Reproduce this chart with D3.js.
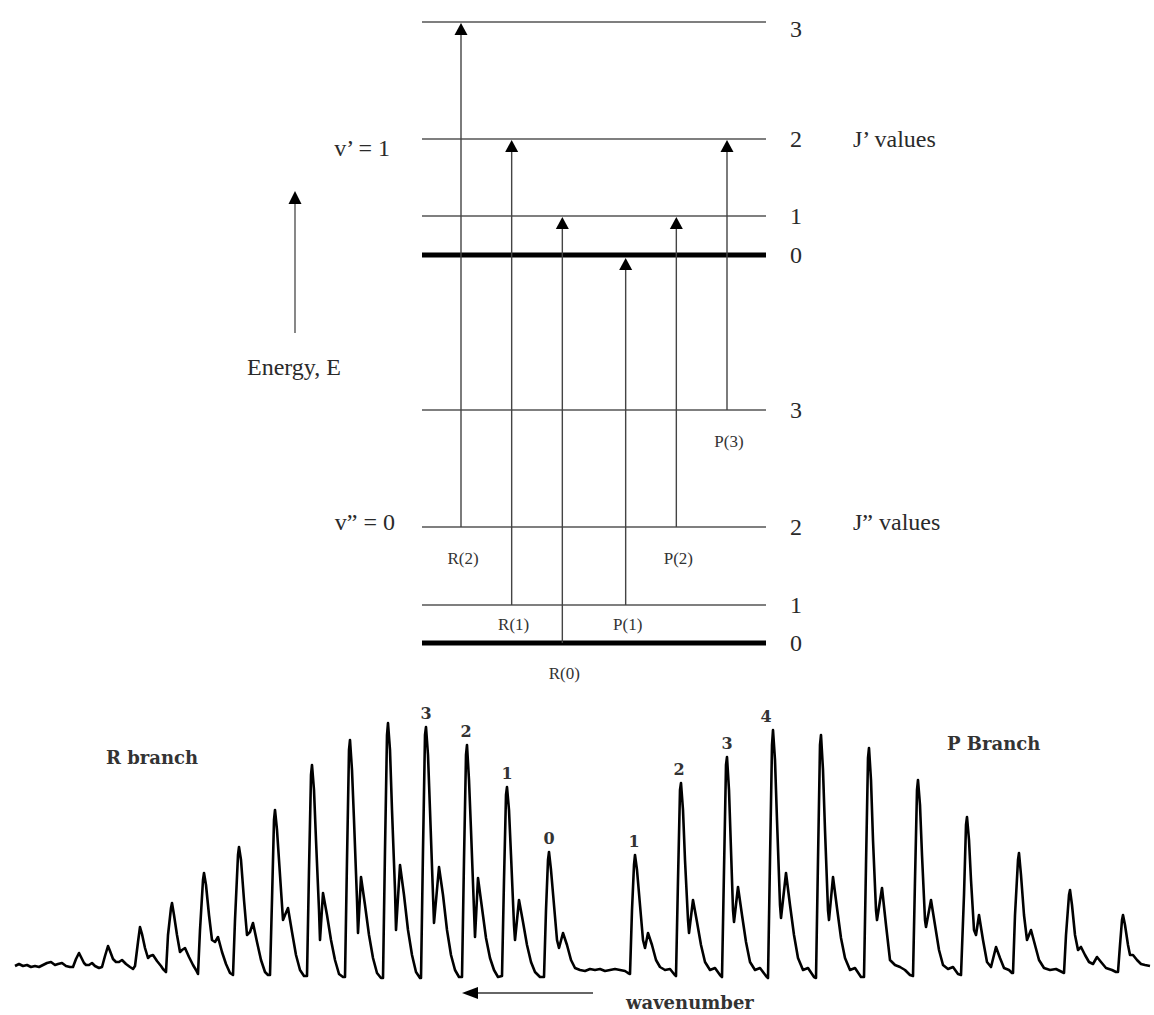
<!DOCTYPE html>
<html>
<head>
<meta charset="utf-8">
<script src="https://cdn.jsdelivr.net/npm/d3@7"></script>
<style>
  body { margin: 0; background: #fff; }
  svg { display: block; }
</style>
</head>
<body>
<div id="chart"></div>
<script>
// energy levels (arbitrary units)
var upperJ = [0, 1, 2, 3];
var upperE = [38.8, 42.7, 50.4, 62.1];
var lowerJ = [0, 1, 2, 3];
var lowerE = [0, 3.8, 11.6, 23.3];

// transitions, left to right
var transLabels = ["R(2)", "R(1)", "R(0)", "P(1)", "P(2)", "P(3)"];
var transFromJ = [2, 1, 0, 1, 2, 3];
var transToJ = [3, 2, 1, 0, 1, 2];
var transSlot = [0, 1, 2, 3.25, 4.25, 5.25];

// spectrum trace: [position, intensity]
var trace = [
  [15,4],[19,6],[23,4],[27,5],[31,3],[35,4],[39,3],[43,5],[47,7],[51,8],[55,5],[58,6],[62,7],[66,4],[70,3],
  [73,3],[76,11],[79,17],[81,13],[84,7],[86,5],[89,5],[92,7],[95,4],[99,2],
  [102,3],[105,14],[108,24],[110,19],[113,11],[116,8],[119,8],[122,10],[126,6],[130,3],[133,1],
  [135,4],[138,28],[140,43],[142,36],[145,22],[148,12],[150,14],[153,15],[157,9],[161,4],[163,1],
  [166,-2],[168,35],[171,62],[172,67],[174,55],[177,35],[180,18],[182,20],[185,22],[189,13],[193,5],[196,0],
  [198,-4],[200,40],[203,90],[204,97],[206,85],[209,55],[212,30],[215,28],[218,33],[222,18],[226,6],[230,-3],
  [233,-5],[235,50],[238,115],[239,123],[241,110],[244,70],[247,35],[250,38],[253,47],[257,28],[261,10],[265,-2],[268,-5],
  [270,-5],[272,70],[274,150],[275,160],[277,140],[280,95],[283,50],[285,55],[288,62],[292,38],[296,15],[300,0],[304,-6],
  [307,-6],[309,100],[311,195],[312,205],[314,180],[316,130],[319,60],[320,30],[323,77],[327,55],[331,30],[335,10],[339,-4],[343,-7],
  [345,-7],[347,110],[349,220],[350,230],[352,200],[354,150],[357,70],[358,37],[361,93],[365,65],[369,35],[373,12],[377,-3],[381,-8],
  [383,-8],[385,120],[387,235],[388,247],[390,220],[392,160],[395,80],[396,40],[400,105],[404,75],[408,40],[412,15],[416,-2],[420,-8],
  [421,-8],[423,120],[425,235],[426,243],[428,215],[430,160],[433,75],[434,47],[439,103],[443,75],[447,40],[451,15],[455,0],[459,-7],
  [462,-7],[464,110],[466,215],[467,225],[469,190],[471,140],[474,60],[475,33],[478,92],[482,62],[486,32],[490,12],[494,0],[498,-7],
  [502,-6],[504,90],[506,175],[507,183],[509,160],[511,115],[514,45],[515,30],[519,70],[523,48],[527,25],[531,8],[535,-2],[540,-7],
  [544,-7],[546,60],[548,110],[549,118],[551,100],[554,65],[557,30],[559,22],[563,37],[567,25],[571,10],[575,2],
  [580,0],[585,-1],[590,1],[595,0],[600,1],[605,-1],[610,0],[615,1],[620,0],[625,-1],[628,-3],
  [630,-4],[632,60],[634,105],[635,115],[637,100],[640,65],[643,30],[645,22],[648,37],[652,25],[656,10],[660,3],[665,0],[670,1],[674,-4],
  [676,-6],[678,90],[680,180],[681,187],[683,160],[685,110],[688,50],[689,37],[693,70],[697,48],[701,25],[705,8],[710,0],[715,2],[720,-5],
  [722,-7],[724,100],[726,205],[727,213],[729,180],[731,120],[733,60],[734,48],[738,83],[742,55],[746,28],[750,8],[755,0],[760,2],[766,-6],
  [768,-8],[770,110],[772,225],[773,240],[775,210],[777,150],[780,65],[781,52],[786,97],[790,65],[794,35],[798,12],[803,0],[808,2],[814,-7],
  [816,-8],[818,110],[820,225],[821,235],[823,200],[825,140],[828,60],[829,50],[833,93],[837,62],[841,32],[845,12],[850,0],[855,2],[861,-7],
  [864,-7],[866,105],[868,212],[869,222],[871,190],[873,130],[876,60],[877,50],[882,82],[886,45],[890,10],[895,5],[900,3],[905,0],[910,-5],
  [913,-6],[915,90],[917,180],[918,190],[920,165],[922,115],[925,50],[926,43],[931,70],[935,45],[939,20],[943,5],[948,1],[953,3],[958,-4],
  [961,-5],[964,75],[966,145],[967,153],[969,130],[971,90],[974,40],[976,35],[979,55],[983,30],[987,8],[991,3],[996,23],[1000,12],[1004,2],[1009,0],[1012,-3],
  [1013,-3],[1015,55],[1018,110],[1019,117],[1021,95],[1024,55],[1027,30],[1031,40],[1035,25],[1039,10],[1044,2],[1050,0],[1056,1],[1062,-2],
  [1064,-3],[1066,35],[1069,75],[1070,80],[1072,65],[1075,35],[1078,20],[1081,23],[1085,15],[1089,8],[1093,6],[1097,13],[1101,8],[1106,2],[1112,0],[1116,-2],
  [1118,-2],[1120,25],[1122,50],[1123,55],[1125,45],[1128,25],[1130,15],[1133,15],[1137,10],[1141,6],[1145,5],[1150,4]
];

// labelled lines in the spectrum
var rLineJ = [3, 2, 1, 0];
var rLinePos = [426, 466, 507, 549];
var rLineInt = [243, 225, 183, 118];
var pLineJ = [1, 2, 3, 4];
var pLinePos = [634, 679, 727, 766];
var pLineInt = [115, 187, 213, 240];

var W = 1154, H = 1015;
var serif = "'Liberation Serif', 'Times New Roman', serif";
var bold = "'DejaVu Serif', serif";

var svg = d3.select("#chart").append("svg")
  .attr("width", W).attr("height", H);

// ---------- energy level diagram ----------
var yE = d3.scaleLinear().domain([0, 62.1]).range([643, 22]);
var xT = d3.scaleLinear().domain([0, 5.25]).range([461, 727]);
var levelX0 = 422, levelX1 = 766;

var levels = [];
upperJ.forEach(function(j, i){ levels.push({J: j, E: upperE[i], thick: j === 0}); });
lowerJ.forEach(function(j, i){ levels.push({J: j, E: lowerE[i], thick: j === 0}); });

svg.append("g").selectAll("line")
  .data(levels)
  .enter().append("line")
  .attr("x1", levelX0).attr("x2", levelX1)
  .attr("y1", function(d){ return yE(d.E); })
  .attr("y2", function(d){ return yE(d.E); })
  .attr("stroke", function(d){ return d.thick ? "#000" : "#555"; })
  .attr("stroke-width", function(d){ return d.thick ? 5 : 1.4; });

svg.append("g").selectAll("text")
  .data(levels)
  .enter().append("text")
  .attr("x", 790)
  .attr("y", function(d){ return Math.max(yE(d.E), 29); })
  .attr("dy", "0.35em")
  .attr("font-family", serif).attr("font-size", 24).attr("fill", "#2a2a2a")
  .text(function(d){ return d.J; });

// transitions
var trans = transLabels.map(function(l, i){
  return {label: l, lo: lowerE[transFromJ[i]], hi: upperE[transToJ[i]],
          hiThick: transToJ[i] === 0, slot: transSlot[i], fromJ: transFromJ[i]};
});

var tg = svg.append("g");
tg.selectAll("line")
  .data(trans)
  .enter().append("line")
  .attr("x1", function(d){ return xT(d.slot); })
  .attr("x2", function(d){ return xT(d.slot); })
  .attr("y1", function(d){ return yE(d.lo); })
  .attr("y2", function(d){ return yE(d.hi) + 6; })
  .attr("stroke", "#444").attr("stroke-width", 1.4);

tg.selectAll("path")
  .data(trans)
  .enter().append("path")
  .attr("d", function(d){
    var x = xT(d.slot), t = yE(d.hi) + (d.hiThick ? 3 : 1);
    return "M" + x + "," + t + "L" + (x - 6.5) + "," + (t + 12) + "L" + (x + 6.5) + "," + (t + 12) + "Z";
  })
  .attr("fill", "#000");

tg.selectAll("text")
  .data(trans)
  .enter().append("text")
  .attr("x", function(d){ return xT(d.slot) + 2; })
  .attr("y", function(d){
    var y = yE(d.lo);
    var below = d.fromJ > 0 ? yE(lowerE[d.fromJ - 1]) : y + 60;
    return Math.min((y + below) / 2, y + 31);
  })
  .attr("dy", "0.35em")
  .attr("text-anchor", "middle")
  .attr("font-family", serif).attr("font-size", 17).attr("fill", "#333")
  .text(function(d){ return d.label; });

// side labels
var side = svg.append("g").attr("font-family", serif).attr("font-size", 24).attr("fill", "#2a2a2a");
side.append("text").attr("x", 390).attr("y", yE(upperE[2]) + 9).attr("dy", "0.35em")
  .attr("text-anchor", "end").text("v\u2019 = 1");
side.append("text").attr("x", 395).attr("y", yE(lowerE[2]) - 5).attr("dy", "0.35em")
  .attr("text-anchor", "end").text("v\u201D = 0");
side.append("text").attr("x", 853).attr("y", yE(upperE[2])).attr("dy", "0.35em").text("J\u2019 values");
side.append("text").attr("x", 853).attr("y", yE(lowerE[2]) - 5).attr("dy", "0.35em").text("J\u201D values");
side.append("text").attr("x", 294).attr("y", 367).attr("dy", "0.35em")
  .attr("text-anchor", "middle").text("Energy, E");

// energy arrow
svg.append("line").attr("x1", 295).attr("x2", 295).attr("y1", 333).attr("y2", 200)
  .attr("stroke", "#555").attr("stroke-width", 1.4);
svg.append("path").attr("d", "M295,191L288.5,204L301.5,204Z").attr("fill", "#000");

// ---------- spectrum ----------
var xS = d3.scaleLinear().domain([15, 1150]).range([15, 1150]);
var yS = d3.scaleLinear().domain([0, 250]).range([970, 720]);

var line = d3.line()
  .x(function(d){ return xS(d[0]); })
  .y(function(d){ return yS(d[1]); });

svg.append("path")
  .datum(trace)
  .attr("d", line)
  .attr("fill", "none")
  .attr("stroke", "#000")
  .attr("stroke-width", 2.6)
  .attr("stroke-linejoin", "round");

var specLabels = [];
rLineJ.forEach(function(j, i){ specLabels.push({t: j, x: rLinePos[i], v: rLineInt[i]}); });
pLineJ.forEach(function(j, i){ specLabels.push({t: j, x: pLinePos[i], v: pLineInt[i]}); });

svg.append("g").selectAll("text")
  .data(specLabels)
  .enter().append("text")
  .attr("x", function(d){ return xS(d.x); })
  .attr("y", function(d){ return yS(d.v) - 14; })
  .attr("dy", "0.35em")
  .attr("text-anchor", "middle")
  .attr("font-family", bold).attr("font-weight", "bold").attr("font-size", 16).attr("fill", "#333")
  .text(function(d){ return d.t; });

var st = svg.append("g").attr("font-family", bold).attr("font-weight", "bold")
  .attr("font-size", 18).attr("fill", "#333");
st.append("text").attr("x", 106).attr("y", 758).attr("dy", "0.35em").text("R branch");
st.append("text").attr("x", 947).attr("y", 744).attr("dy", "0.35em").text("P Branch");
st.append("text").attr("x", 626).attr("y", 1003).attr("dy", "0.35em").text("wavenumber");

// wavenumber arrow
svg.append("line").attr("x1", 593).attr("x2", 474).attr("y1", 993).attr("y2", 993)
  .attr("stroke", "#333").attr("stroke-width", 1.6);
svg.append("path").attr("d", "M462,993L478,987L478,999Z").attr("fill", "#000");
</script>
</body>
</html>
